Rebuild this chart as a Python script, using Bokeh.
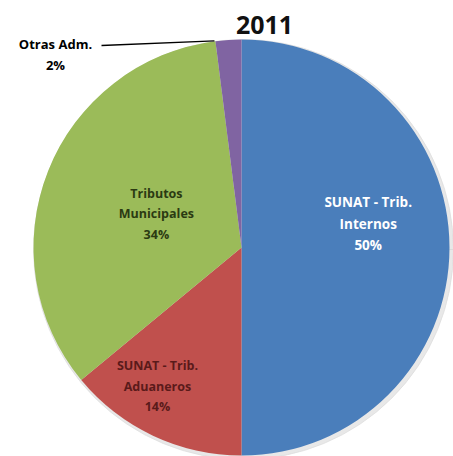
import math
from bokeh.plotting import figure
from bokeh.models import Range1d, ColumnDataSource
from bokeh.core.properties import value
from bokeh.embed import file_html
from bokeh.resources import INLINE

# ---- data ----
categories = ["SUNAT - Trib.\nInternos", "SUNAT - Trib.\nAduaneros", "Tributos\nMunicipales", "Otras Adm."]
shares = [50, 14, 34, 2]
colors = ["#4A7EBB", "#C0504D", "#9BBB59", "#8064A2"]
label_colors = ["#FFFFFF", "#5A1A1A", "#2B3A12", "#000000"]
title = "2011"

# ---- layout ----
W, H = 453, 456
cx, cy, R = 241, H - 247, 208
label_frac = [0.62, 0.78, 0.44, None]
label_rot = [10.7, -6.0, 0.0, 0.0]   # degrees offset from mid-angle
label_size = ["13.5px", "12.5px", "12.5px", "13px"]
FONT = "Open Sans"

p = figure(width=W, height=H, x_range=Range1d(0, W), y_range=Range1d(0, H),
           output_backend="svg", toolbar_location=None, min_border=0)
p.axis.visible = False
p.grid.visible = False
p.outline_line_color = None
p.background_fill_color = "white"

total = sum(shares)
starts, ends, mids = [], [], []
cum = 0
for s in shares:
    a0 = math.pi / 2 - 2 * math.pi * cum / total
    cum += s
    a1 = math.pi / 2 - 2 * math.pi * cum / total
    starts.append(a0)
    ends.append(a1)
    mids.append((a0 + a1) / 2)

# soft shadow
p.wedge(x=cx + 2, y=cy - 2, radius=R + 2, start_angle=0, end_angle=2 * math.pi,
        color="#d8d8d8", alpha=0.6)

src = ColumnDataSource(dict(start=starts, end=ends, color=colors))
p.wedge(x=cx, y=cy, radius=R, start_angle="start", end_angle="end", direction="clock",
        fill_color="color", line_color=None, source=src)

# labels inside slices
lx, ly, lt, lc, ls = [], [], [], [], []
for i, (c, s) in enumerate(zip(categories, shares)):
    if label_frac[i] is None:
        continue
    a = mids[i] + math.radians(label_rot[i])
    lx.append(cx + R * label_frac[i] * math.cos(a))
    ly.append(cy + R * label_frac[i] * math.sin(a))
    lt.append(f"{c}\n{s}%")
    lc.append(label_colors[i])
    ls.append(label_size[i])
lsrc = ColumnDataSource(dict(x=lx, y=ly, text=lt, color=lc, size=ls))
p.text(x="x", y="y", text="text", text_color="color", text_align="center", text_baseline="middle",
       text_font=value(FONT), text_font_style="bold", text_font_size="size",
       text_line_height=1.2, source=lsrc)

# small slice label with leader line
i = 3
ex = cx + R * math.cos(mids[i]) - 14
ey = cy + R * math.sin(mids[i]) - 1
p.line(x=[101, ex], y=[H - 45, ey], line_color="#000000", line_width=1.3)
p.text(x=[55], y=[H - 54], text=[f"{categories[i]}\n{shares[i]}%"], text_color=label_colors[i],
       text_align="center", text_baseline="middle", text_font=value(FONT),
       text_font_style="bold", text_font_size=label_size[i], text_line_height=1.2)

# title
p.text(x=[264], y=[H - 24], text=[title], text_align="center", text_baseline="middle",
       text_font=value(FONT), text_font_style="bold", text_font_size="25px", text_color="#111111")

open("out.html", "w").write(file_html(p, INLINE))
